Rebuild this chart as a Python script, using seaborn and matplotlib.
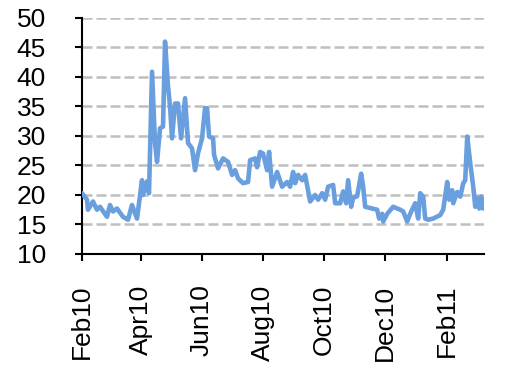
"""Volatility index line chart, Feb 2010 - Mar 2011"""

import matplotlib

matplotlib.use("Agg")
import matplotlib.dates as mdates
import matplotlib.pyplot as plt
import pandas as pd
import seaborn as sns

START = "2010-02-01"
# days after START
days = [
    0, 5, 6, 11, 15, 18, 25, 28, 31, 35, 41, 46, 50, 55, 60, 61, 65, 67,
    70, 73, 75, 78, 81, 83, 86, 88, 90, 93, 96, 99, 103, 106, 110, 113,
    116, 120, 123, 125, 127, 131, 132, 136, 141, 146, 150, 153, 156, 161,
    166, 168, 173, 175, 178, 181, 185, 187, 190, 195, 200, 205, 208, 211,
    213, 216, 220, 223, 228, 233, 236, 240, 243, 246, 251, 253, 258, 261,
    264, 266, 269, 271, 275, 279, 281, 283, 290, 295, 297, 300, 301, 305,
    311, 318, 321, 325, 328, 333, 336, 338, 341, 343, 346, 351, 358, 361,
    365, 367, 370, 371, 375, 378, 381, 383, 385, 388, 391, 393, 395, 397,
    399, 401,
]
values = [
    20.3, 19.2, 17.5, 18.9, 17.5, 18.0, 16.3, 18.3, 17.2, 17.7, 16.3, 15.8,
    18.3, 16.0, 22.5, 20.0, 22.3, 20.3, 40.9, 28.8, 25.6, 31.3, 31.6, 46.0,
    38.4, 35.0, 29.6, 35.5, 35.5, 29.6, 36.4, 28.8, 27.9, 24.2, 27.1, 29.6,
    34.7, 34.7, 29.9, 29.6, 26.8, 24.5, 26.2, 25.6, 23.4, 24.2, 22.8, 22.0,
    22.2, 25.9, 26.2, 24.7, 27.3, 27.0, 24.2, 27.3, 21.4, 23.9, 21.4, 22.2,
    21.4, 23.9, 22.0, 23.4, 22.5, 23.4, 18.9, 20.0, 19.2, 20.3, 19.2, 21.4,
    21.7, 18.6, 18.6, 20.6, 18.6, 22.5, 18.0, 19.5, 19.8, 23.6, 21.4, 18.0,
    17.7, 17.5, 16.0, 16.8, 15.5, 16.8, 18.0, 17.5, 17.2, 15.5, 16.8, 18.6,
    16.0, 20.3, 19.7, 16.0, 15.8, 16.0, 16.6, 17.5, 22.2, 19.2, 20.8, 18.6,
    20.5, 19.7, 22.0, 22.5, 29.9, 25.4, 21.4, 18.0, 19.5, 17.7, 19.7, 17.7,
]
y_ticks = [10, 15, 20, 25, 30, 35, 40, 45, 50]
x_ticks = ["2010-02-01", "2010-04-01", "2010-06-01", "2010-08-01",
           "2010-10-01", "2010-12-01", "2011-02-01"]


def main():
    """Go Main."""
    df = pd.DataFrame(
        {
            "date": pd.Timestamp(START) + pd.to_timedelta(days, unit="D"),
            "value": values,
        }
    )
    sns.set_style("ticks")
    plt.rcParams["font.family"] = ["Liberation Sans", "DejaVu Sans"]

    fig = plt.figure(figsize=(5.06, 3.67), dpi=100)
    ax = fig.add_axes([0.162, 0.308, 0.795, 0.643])

    for y in y_ticks[1:]:
        ax.axhline(y, color="#BFBFBF", lw=1.8, ls=(0, (4, 1.6)), zorder=1)

    sns.lineplot(
        data=df, x="date", y="value", color="#6A9FDF", lw=3.3,
        ax=ax, zorder=3,
    )

    ax.set_ylim(10, 50)
    ax.set_yticks(y_ticks)
    ax.set_xlim(pd.Timestamp(START), pd.Timestamp(START) + pd.Timedelta(days=402))
    ax.set_xticks(pd.to_datetime(x_ticks))
    ax.xaxis.set_major_formatter(mdates.DateFormatter("%b%y"))
    ax.set_xlabel("")
    ax.set_ylabel("")

    sns.despine(ax=ax)
    for side in ("left", "bottom"):
        ax.spines[side].set_linewidth(1.5)
        ax.spines[side].set_color("black")
    ax.tick_params(axis="both", direction="out", length=5, width=1.5,
                   colors="black", labelsize=19)
    ax.tick_params(axis="y", pad=21)
    ax.tick_params(axis="x", pad=17, labelrotation=90)

    fig.savefig("out.png", dpi=100)


if __name__ == "__main__":
    main()
